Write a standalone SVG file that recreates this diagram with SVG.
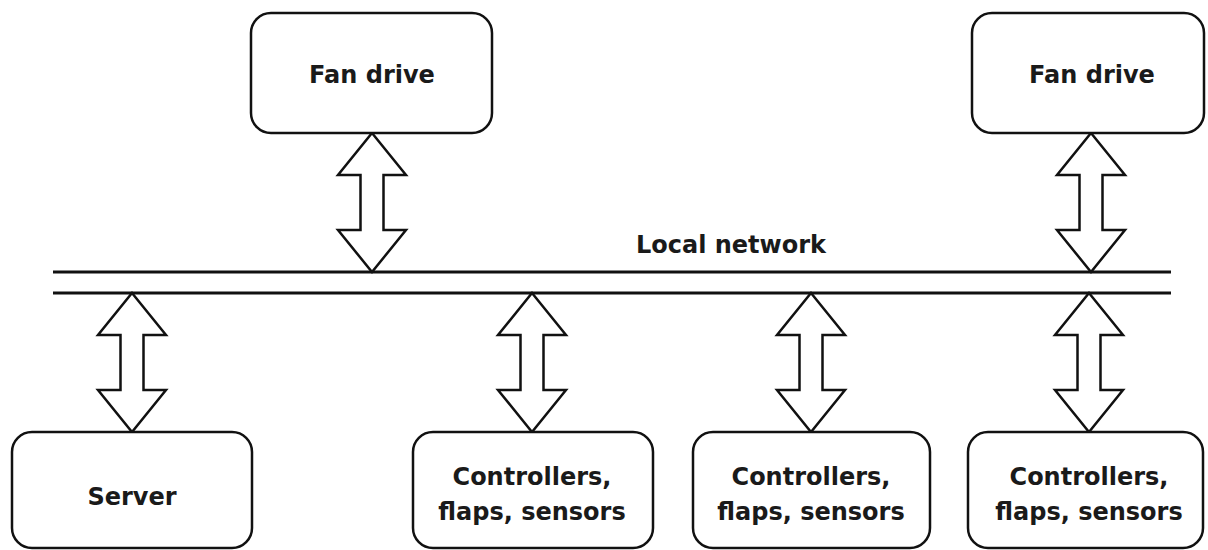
<svg xmlns="http://www.w3.org/2000/svg" width="1208" height="550" viewBox="0 0 1208 550">
<style>
.box{fill:#fff;stroke:#111;stroke-width:2.5}
.lbl{font-family:"DejaVu Sans",Verdana,sans-serif;font-weight:bold;font-size:24px;fill:#1a1a1a;text-anchor:middle}
.bus{stroke:#111;stroke-width:3;fill:none}
.arr{fill:#fff;stroke:#111;stroke-width:2.5;stroke-linejoin:miter}
</style>
<defs>
<path id="dbl" d="M0,0 L34,42 L11.5,42 L11.5,97 L34,97 L0,139 L-34,97 L-11.5,97 L-11.5,42 L-34,42 Z"/>
</defs>
<rect width="1208" height="550" fill="#fff"/>
<g id="connectors">
<line class="bus" x1="53" y1="272" x2="1171" y2="272"/>
<line class="bus" x1="53" y1="293" x2="1171" y2="293"/>
<use href="#dbl" class="arr" x="372" y="133"/>
<use href="#dbl" class="arr" x="1091" y="133"/>
<use href="#dbl" class="arr" x="132" y="293"/>
<use href="#dbl" class="arr" x="532" y="293"/>
<use href="#dbl" class="arr" x="811" y="293"/>
<use href="#dbl" class="arr" x="1089" y="293"/>
</g>
<g id="network-label"><text class="lbl" x="731" y="253">Local network</text></g>
<g id="fan1"><rect class="box" x="251" y="13" width="241" height="120" rx="20"/><text class="lbl" x="372" y="83">Fan drive</text></g>
<g id="fan2"><rect class="box" x="972" y="13" width="232" height="120" rx="20"/><text class="lbl" x="1092" y="83">Fan drive</text></g>
<g id="server"><rect class="box" x="12" y="432" width="240" height="116" rx="20"/><text class="lbl" x="132" y="505">Server</text></g>
<g id="ctrl1"><rect class="box" x="413" y="432" width="240" height="116" rx="20"/><text class="lbl" x="532" y="485">Controllers,</text><text class="lbl" x="532" y="520">flaps, sensors</text></g>
<g id="ctrl2"><rect class="box" x="693" y="432" width="237" height="116" rx="20"/><text class="lbl" x="811" y="485">Controllers,</text><text class="lbl" x="811" y="520">flaps, sensors</text></g>
<g id="ctrl3"><rect class="box" x="968" y="432" width="235" height="116" rx="20"/><text class="lbl" x="1089" y="485">Controllers,</text><text class="lbl" x="1089" y="520">flaps, sensors</text></g>
</svg>
